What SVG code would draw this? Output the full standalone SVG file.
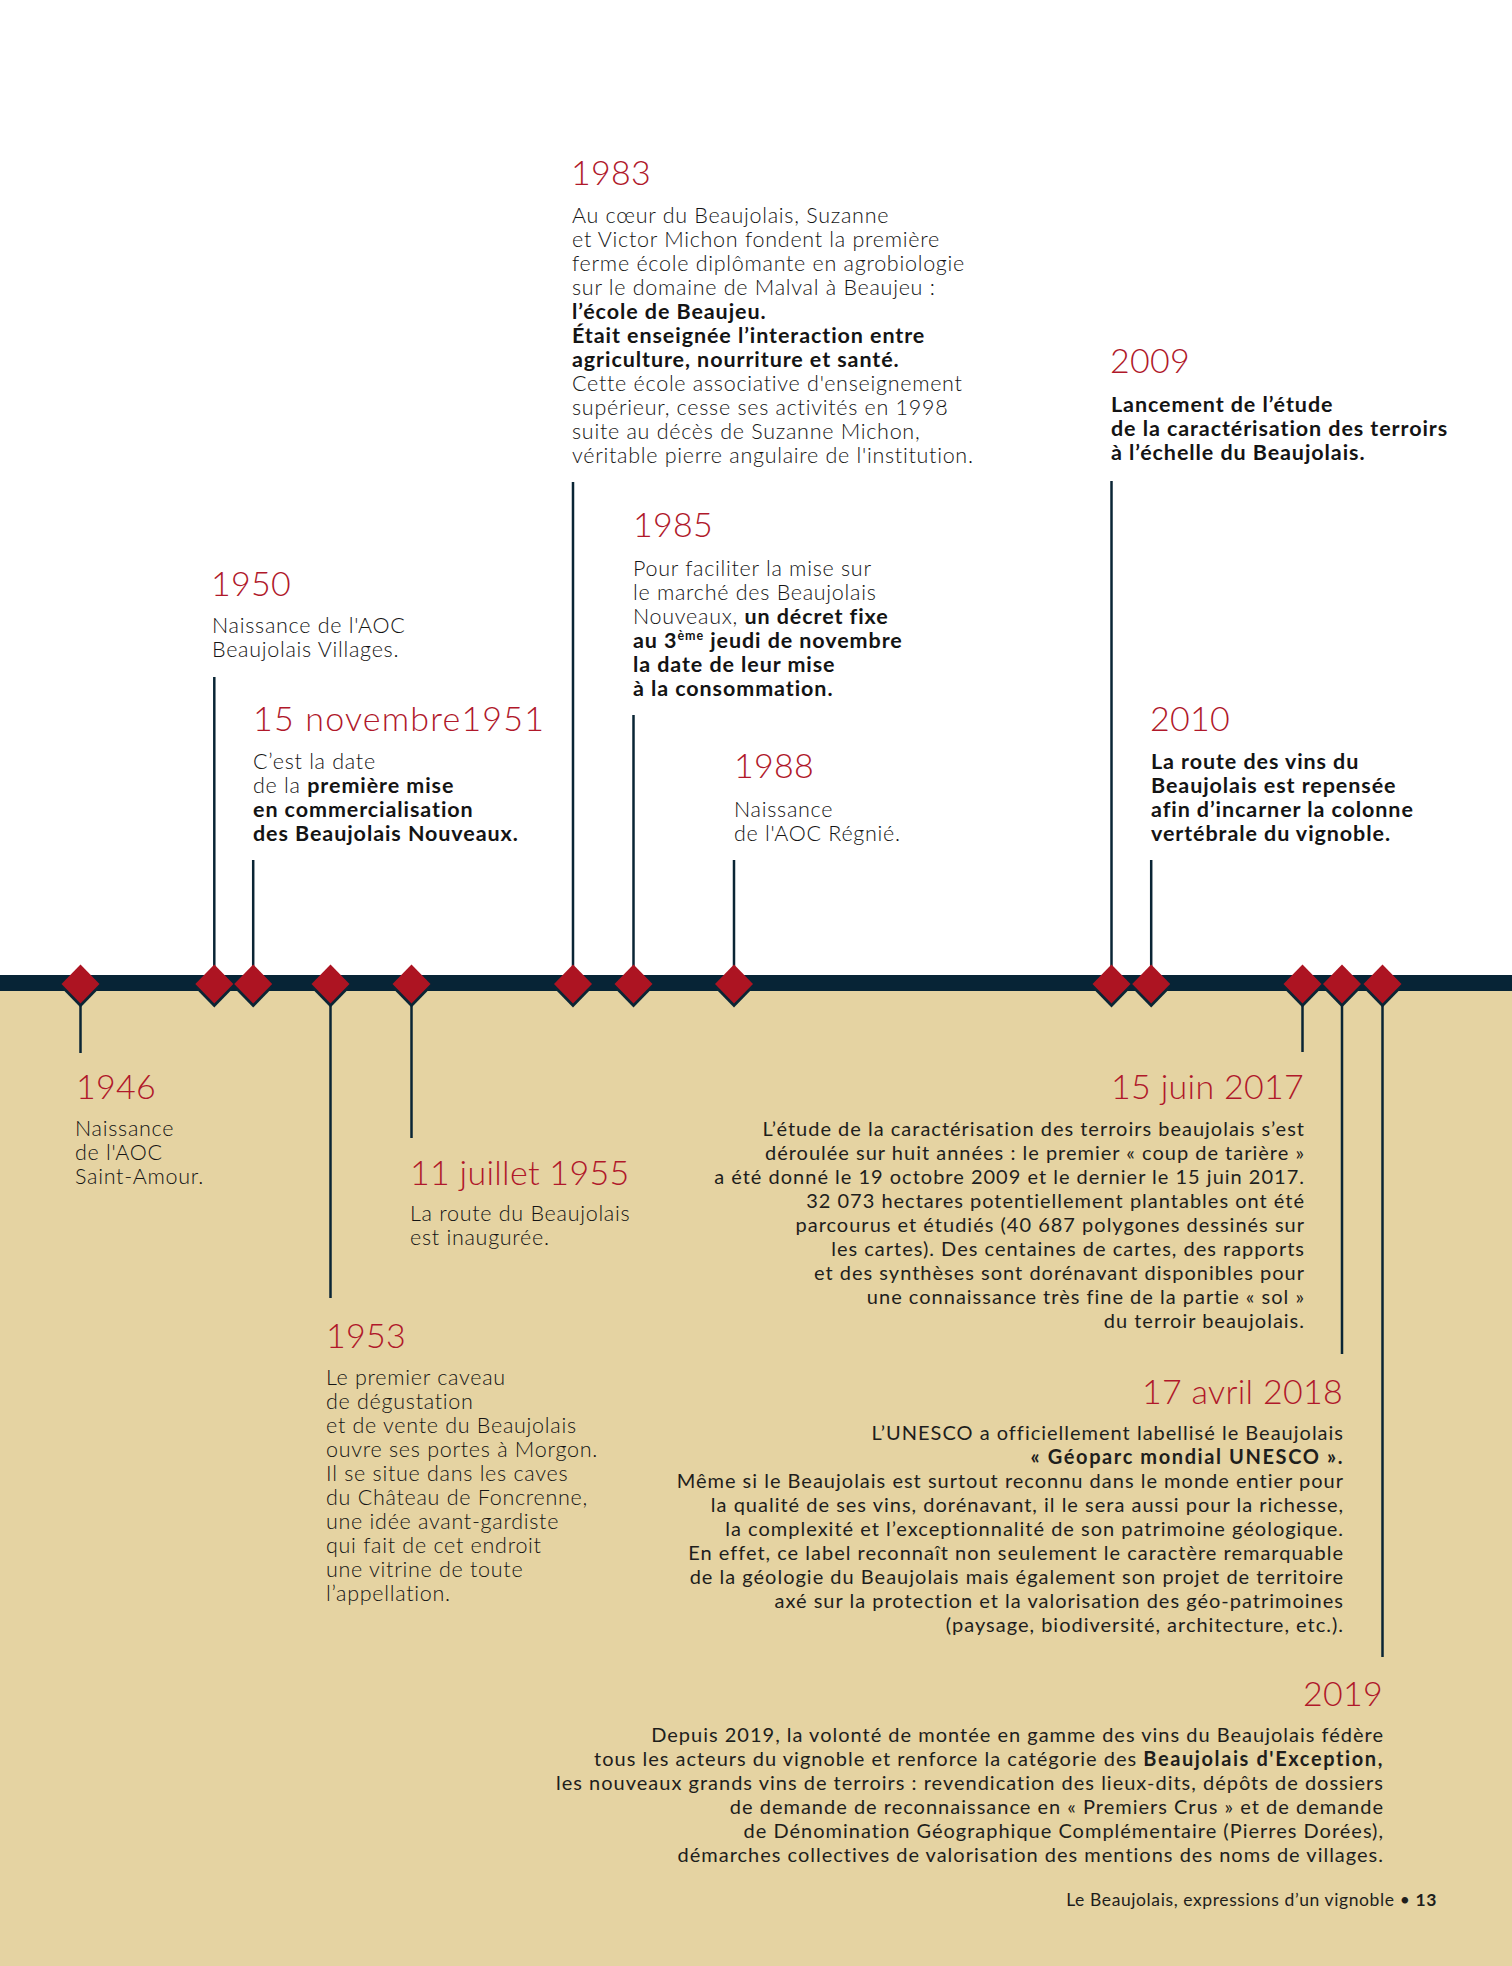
<svg xmlns="http://www.w3.org/2000/svg" xmlns:xlink="http://www.w3.org/1999/xlink" width="1512" height="1966" viewBox="0 0 1512 1966">
<style>
text { font-family: Lato, "Open Sans", "Liberation Sans", sans-serif; }
.t { font-weight: 300; font-size: 34px; fill: #B0182A; letter-spacing: 0.3px; }
.b { font-weight: 300; font-size: 21.5px; fill: #141414; letter-spacing: 0.72px; }
.b .s, .b.s { font-weight: 700; letter-spacing: 0.92px; }
.c { font-weight: 400; font-size: 20px; fill: #1E1E1C; letter-spacing: 1px; }
.c .s, .c.s { font-weight: 700; letter-spacing: 1.6px; }
.e { text-anchor: end; }
.ln { stroke: #0A2535; stroke-width: 2.5; fill: none; }
.f { font-weight: 400; font-size: 17.5px; fill: #1E1E1C; letter-spacing: 0.6px; }
</style>
<defs>
  <g id="dia">
    <polygon points="0,-15.5 19,4 0,23.5 -19,4" fill="#0A2535"/>
    <polygon points="0,-19.5 19,0 0,19.5 -19,0" fill="#AD1422"/>
  </g>
</defs>
<rect x="0" y="0" width="1512" height="1966" fill="#FFFFFF"/>
<rect x="0" y="990" width="1512" height="976" fill="#E5D3A2"/>
<rect x="0" y="975" width="1512" height="16" fill="#072436"/>

<g id="connectors">
  <line class="ln" x1="80.5" y1="984" x2="80.5" y2="1053"/>
  <line class="ln" x1="214.3" y1="677" x2="214.3" y2="984"/>
  <line class="ln" x1="253.2" y1="860" x2="253.2" y2="984"/>
  <line class="ln" x1="330.5" y1="984" x2="330.5" y2="1298"/>
  <line class="ln" x1="411.5" y1="984" x2="411.5" y2="1138"/>
  <line class="ln" x1="573" y1="482" x2="573" y2="984"/>
  <line class="ln" x1="633.5" y1="715" x2="633.5" y2="984"/>
  <line class="ln" x1="734" y1="860" x2="734" y2="984"/>
  <line class="ln" x1="1111.5" y1="481" x2="1111.5" y2="984"/>
  <line class="ln" x1="1151.2" y1="860" x2="1151.2" y2="984"/>
  <line class="ln" x1="1302.5" y1="984" x2="1302.5" y2="1052"/>
  <line class="ln" x1="1342" y1="984" x2="1342" y2="1354"/>
  <line class="ln" x1="1382.5" y1="984" x2="1382.5" y2="1657"/>
</g>

<g id="markers">
  <use xlink:href="#dia" x="80.5" y="984"/>
  <use xlink:href="#dia" x="214.3" y="984"/>
  <use xlink:href="#dia" x="253.2" y="984"/>
  <use xlink:href="#dia" x="330.5" y="984"/>
  <use xlink:href="#dia" x="411.5" y="984"/>
  <use xlink:href="#dia" x="573" y="984"/>
  <use xlink:href="#dia" x="633.5" y="984"/>
  <use xlink:href="#dia" x="734" y="984"/>
  <use xlink:href="#dia" x="1111.5" y="984"/>
  <use xlink:href="#dia" x="1151.2" y="984"/>
  <use xlink:href="#dia" x="1302.5" y="984"/>
  <use xlink:href="#dia" x="1342" y="984"/>
  <use xlink:href="#dia" x="1382.5" y="984"/>
</g>

<g id="e1946">
  <text class="t" x="76" y="1099">1946</text>
  <text class="b" x="75" y="1136">Naissance</text>
  <text class="b" x="75" y="1160">de l'AOC</text>
  <text class="b" x="75" y="1184">Saint-Amour.</text>
</g>

<g id="e1950">
  <text class="t" x="211" y="596">1950</text>
  <text class="b" x="212" y="633">Naissance de l'AOC</text>
  <text class="b" x="212" y="657">Beaujolais Villages.</text>
</g>

<g id="e1951">
  <text class="t" x="253" y="731" style="letter-spacing:1.2px">15 novembre1951</text>
  <text class="b" x="253" y="769">C’est la date</text>
  <text class="b" x="253" y="793">de la <tspan class="s">première mise</tspan></text>
  <text class="b s" x="253" y="817">en commercialisation</text>
  <text class="b s" x="253" y="841">des Beaujolais Nouveaux.</text>
</g>

<g id="e1953">
  <text class="t" x="326" y="1348">1953</text>
  <text class="b" x="326" y="1385">Le premier caveau</text>
  <text class="b" x="326" y="1409">de dégustation</text>
  <text class="b" x="326" y="1433">et de vente du Beaujolais</text>
  <text class="b" x="326" y="1457">ouvre ses portes à Morgon.</text>
  <text class="b" x="326" y="1481">Il se situe dans les caves</text>
  <text class="b" x="326" y="1505">du Château de Foncrenne,</text>
  <text class="b" x="326" y="1529">une idée avant-gardiste</text>
  <text class="b" x="326" y="1553">qui fait de cet endroit</text>
  <text class="b" x="326" y="1577">une vitrine de toute</text>
  <text class="b" x="326" y="1601">l’appellation.</text>
</g>

<g id="e1955">
  <text class="t" x="410" y="1185">11 juillet 1955</text>
  <text class="b" x="410" y="1221">La route du Beaujolais</text>
  <text class="b" x="410" y="1245">est inaugurée.</text>
</g>

<g id="e1983">
  <text class="t" x="571" y="185">1983</text>
  <text class="b" x="572" y="223">Au cœur du Beaujolais, Suzanne</text>
  <text class="b" x="572" y="247">et Victor Michon fondent la première</text>
  <text class="b" x="572" y="271">ferme école diplômante en agrobiologie</text>
  <text class="b" x="572" y="295">sur le domaine de Malval à Beaujeu :</text>
  <text class="b s" x="572" y="319">l’école de Beaujeu.</text>
  <text class="b s" x="572" y="343">Était enseignée l’interaction entre</text>
  <text class="b s" x="572" y="367">agriculture, nourriture et santé.</text>
  <text class="b" x="572" y="391">Cette école associative d'enseignement</text>
  <text class="b" x="572" y="415">supérieur, cesse ses activités en 1998</text>
  <text class="b" x="572" y="439">suite au décès de Suzanne Michon,</text>
  <text class="b" x="572" y="463">véritable pierre angulaire de l'institution.</text>
</g>

<g id="e1985">
  <text class="t" x="633" y="537">1985</text>
  <text class="b" x="633" y="576">Pour faciliter la mise sur</text>
  <text class="b" x="633" y="600">le marché des Beaujolais</text>
  <text class="b" x="633" y="624">Nouveaux, <tspan class="s">un décret fixe</tspan></text>
  <text class="b s" x="633" y="648">au 3<tspan font-size="12.5" dy="-8">ème</tspan><tspan dy="8"> jeudi de novembre</tspan></text>
  <text class="b s" x="633" y="672">la date de leur mise</text>
  <text class="b s" x="633" y="696">à la consommation.</text>
</g>

<g id="e1988">
  <text class="t" x="734" y="778">1988</text>
  <text class="b" x="734" y="817">Naissance</text>
  <text class="b" x="734" y="841">de l'AOC Régnié.</text>
</g>

<g id="e2009">
  <text class="t" x="1110" y="373">2009</text>
  <text class="b s" x="1111" y="412">Lancement de l’étude</text>
  <text class="b s" x="1111" y="436">de la caractérisation des terroirs</text>
  <text class="b s" x="1111" y="460">à l’échelle du Beaujolais.</text>
</g>

<g id="e2010">
  <text class="t" x="1150" y="731">2010</text>
  <text class="b s" x="1151" y="769">La route des vins du</text>
  <text class="b s" x="1151" y="793">Beaujolais est repensée</text>
  <text class="b s" x="1151" y="817">afin d’incarner la colonne</text>
  <text class="b s" x="1151" y="841">vertébrale du vignoble.</text>
</g>

<g id="e2017">
  <text class="t e" x="1304" y="1099">15 juin 2017</text>
  <text class="c e" x="1305" y="1136">L’étude de la caractérisation des terroirs beaujolais s’est</text>
  <text class="c e" x="1305" y="1160">déroulée sur huit années : le premier « coup de tarière »</text>
  <text class="c e" x="1305" y="1184">a été donné le 19 octobre 2009 et le dernier le 15 juin 2017.</text>
  <text class="c e" x="1305" y="1208">32 073 hectares potentiellement plantables ont été</text>
  <text class="c e" x="1305" y="1232">parcourus et étudiés (40 687 polygones dessinés sur</text>
  <text class="c e" x="1305" y="1256">les cartes). Des centaines de cartes, des rapports</text>
  <text class="c e" x="1305" y="1280">et des synthèses sont dorénavant disponibles pour</text>
  <text class="c e" x="1305" y="1304">une connaissance très fine de la partie « sol »</text>
  <text class="c e" x="1305" y="1328">du terroir beaujolais.</text>
</g>

<g id="e2018">
  <text class="t e" x="1343" y="1404">17 avril 2018</text>
  <text class="c e" x="1344" y="1440">L’UNESCO a officiellement labellisé le Beaujolais</text>
  <text class="c e s" x="1344" y="1464">« Géoparc mondial UNESCO ».</text>
  <text class="c e" x="1344" y="1488">Même si le Beaujolais est surtout reconnu dans le monde entier pour</text>
  <text class="c e" x="1344" y="1512">la qualité de ses vins, dorénavant, il le sera aussi pour la richesse,</text>
  <text class="c e" x="1344" y="1536">la complexité et l’exceptionnalité de son patrimoine géologique.</text>
  <text class="c e" x="1344" y="1560">En effet, ce label reconnaît non seulement le caractère remarquable</text>
  <text class="c e" x="1344" y="1584">de la géologie du Beaujolais mais également son projet de territoire</text>
  <text class="c e" x="1344" y="1608">axé sur la protection et la valorisation des géo-patrimoines</text>
  <text class="c e" x="1344" y="1632">(paysage, biodiversité, architecture, etc.).</text>
</g>

<g id="e2019">
  <text class="t e" x="1383" y="1706">2019</text>
  <text class="c e" x="1384" y="1742">Depuis 2019, la volonté de montée en gamme des vins du Beaujolais fédère</text>
  <text class="c e" x="1384" y="1766">tous les acteurs du vignoble et renforce la catégorie des <tspan class="s">Beaujolais d'Exception,</tspan></text>
  <text class="c e" x="1384" y="1790">les nouveaux grands vins de terroirs : revendication des lieux-dits, dépôts de dossiers</text>
  <text class="c e" x="1384" y="1814">de demande de reconnaissance en « Premiers Crus » et de demande</text>
  <text class="c e" x="1384" y="1838">de Dénomination Géographique Complémentaire (Pierres Dorées),</text>
  <text class="c e" x="1384" y="1862">démarches collectives de valorisation des mentions des noms de villages.</text>
</g>

<g id="footer">
  <text class="f e" x="1437" y="1906">Le Beaujolais, expressions d’un vignoble • <tspan font-weight="700">13</tspan></text>
</g>
</svg>
